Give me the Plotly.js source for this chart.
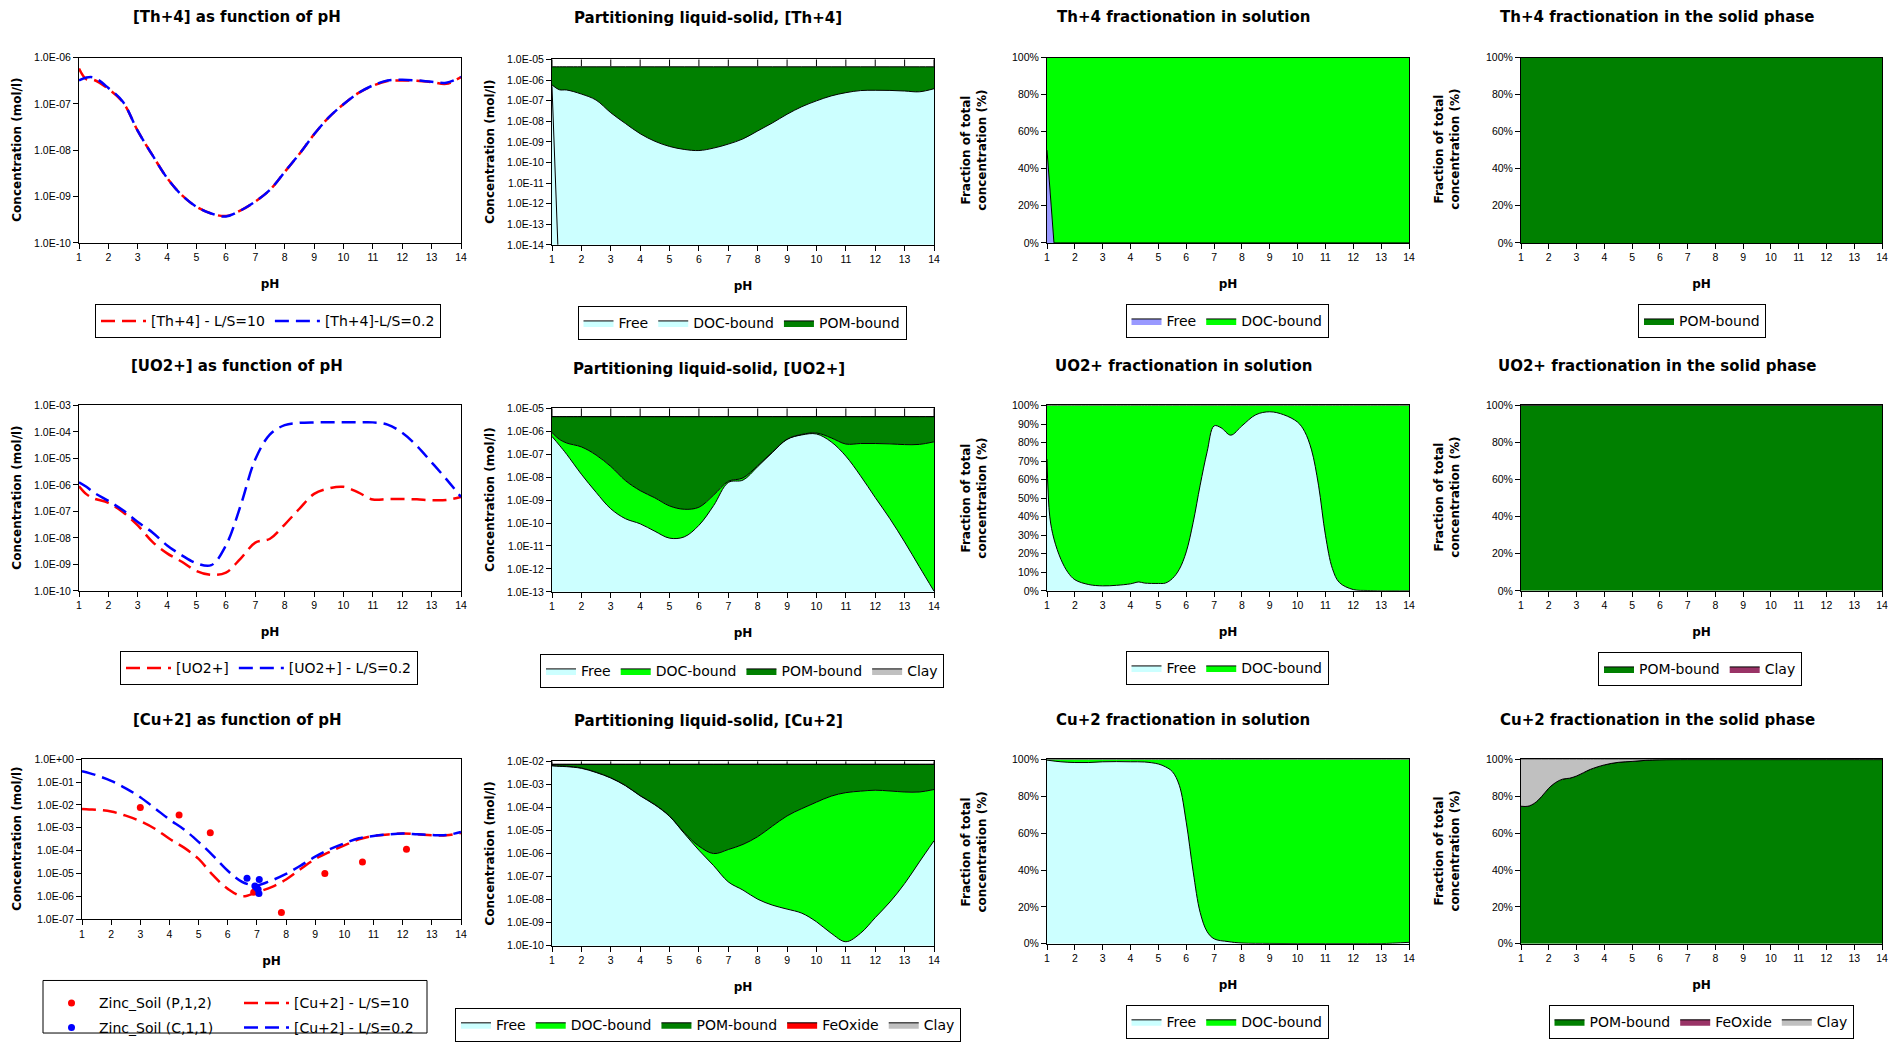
<!DOCTYPE html>
<html><head><meta charset="utf-8">
<script src="https://cdn.plot.ly/plotly-3.0.1.min.js"></script>
<style>html,body{margin:0;padding:0;background:#fff;}#chart{width:1891px;height:1044px;}</style>
</head><body><div id="chart"></div>
<script>
// ---------------- DATA ----------------
const phA = [1, 1.25, 1.5, 2, 2.5, 3, 3.5, 4, 4.5, 5, 5.5, 6, 6.5, 7, 7.5, 8, 8.5, 9, 9.5, 10, 10.5, 11, 11.5, 12, 12.5, 13, 13.5, 14];

// Th+4
const thLS10 = [5.8e-7, 3.4e-7, 3.3e-7, 2.1e-7, 1.07e-7, 2.6e-8, 7.8e-9, 2.5e-9, 1.07e-9, 6.0e-10, 4.3e-10, 3.8e-10, 5.0e-10, 7.8e-10, 1.4e-9, 3.4e-9, 8.3e-9, 2.2e-8, 5.1e-8, 9.8e-8, 1.7e-7, 2.45e-7, 3.1e-7, 3.2e-7, 3.15e-7, 2.95e-7, 2.7e-7, 3.8e-7];
const thLS02 = [3.2e-7, 3.7e-7, 3.7e-7, 2.2e-7, 1.1e-7, 2.6e-8, 7.8e-9, 2.5e-9, 1.07e-9, 6.0e-10, 4.3e-10, 3.7e-10, 5.0e-10, 7.8e-10, 1.4e-9, 3.4e-9, 8.3e-9, 2.2e-8, 5.1e-8, 9.8e-8, 1.7e-7, 2.5e-7, 3.2e-7, 3.3e-7, 3.2e-7, 3.0e-7, 2.85e-7, 3.8e-7];
const thPartFree = [5e-7, 1e-16, 1e-16, 1e-16, 1e-16, 1e-16, 1e-16, 1e-16, 1e-16, 1e-16, 1e-16, 1e-16, 1e-16, 1e-16, 1e-16, 1e-16, 1e-16, 1e-16, 1e-16, 1e-16, 1e-16, 1e-16, 1e-16, 1e-16, 1e-16, 1e-16, 1e-16, 1e-16];
const thPartDissolved = thLS10;
const thPartTotal = [4.4e-6, 4.4e-6, 4.4e-6, 4.4e-6, 4.4e-6, 4.4e-6, 4.4e-6, 4.4e-6, 4.4e-6, 4.4e-6, 4.4e-6, 4.4e-6, 4.4e-6, 4.4e-6, 4.4e-6, 4.4e-6, 4.4e-6, 4.4e-6, 4.4e-6, 4.4e-6, 4.4e-6, 4.4e-6, 4.4e-6, 4.4e-6, 4.4e-6, 4.4e-6, 4.4e-6, 4.4e-6];
const thSolFree = [50, 0, 0, 0, 0, 0, 0, 0, 0, 0, 0, 0, 0, 0, 0, 0, 0, 0, 0, 0, 0, 0, 0, 0, 0, 0, 0, 0];
const thSolDoc = [50, 100, 100, 100, 100, 100, 100, 100, 100, 100, 100, 100, 100, 100, 100, 100, 100, 100, 100, 100, 100, 100, 100, 100, 100, 100, 100, 100];
const thSolidPom = [100, 100, 100, 100, 100, 100, 100, 100, 100, 100, 100, 100, 100, 100, 100, 100, 100, 100, 100, 100, 100, 100, 100, 100, 100, 100, 100, 100];

// UO2+
const uo2LS10 = [8.9e-7, 4.5e-7, 3.1e-7, 2.1e-7, 9.3e-8, 2.95e-8, 7.1e-9, 2.6e-9, 1.26e-9, 5.6e-10, 4.0e-10, 4.9e-10, 1.66e-9, 6.6e-9, 9.3e-9, 3.2e-8, 1.26e-7, 4.6e-7, 7.4e-7, 8.5e-7, 5.2e-7, 2.8e-7, 2.95e-7, 2.95e-7, 2.85e-7, 2.65e-7, 2.7e-7, 3.5e-7];
const uo2LS02 = [1.26e-6, 8.5e-7, 5.2e-7, 2.5e-7, 1.1e-7, 4.0e-8, 1.6e-8, 5.2e-9, 2.2e-9, 1.1e-9, 9.3e-10, 5.2e-9, 1.66e-7, 9.3e-6, 8.1e-5, 1.8e-4, 2.2e-4, 2.3e-4, 2.3e-4, 2.3e-4, 2.3e-4, 2.3e-4, 1.9e-4, 9.3e-5, 2.95e-5, 7.1e-6, 1.66e-6, 3.5e-7];
const uo2PartFree = [6.0e-7, 2.5e-7, 1.0e-7, 1.35e-8, 2.2e-9, 4.2e-10, 1.55e-10, 9.3e-11, 4.4e-11, 2.2e-11, 2.5e-11, 8e-11, 5.8e-10, 5.9e-9, 7.5e-9, 2.9e-8, 1.2e-7, 4.45e-7, 7.0e-7, 7.7e-7, 3.5e-7, 8.3e-8, 1.15e-8, 1.3e-9, 1.55e-10, 1.5e-11, 1.26e-12, 1.07e-13];
const uo2PartDissolved = uo2LS10;
const uo2PartTotal = thPartTotal;
const phB = [1, 1.1, 1.25, 1.5, 1.75, 2, 2.5, 3, 3.5, 4, 4.3, 4.5, 5, 5.25, 5.5, 5.75, 6, 6.25, 6.5, 6.75, 7, 7.25, 7.6, 8, 8.5, 9, 9.5, 10, 10.25, 10.5, 10.75, 11, 11.25, 11.5, 12, 12.5, 13, 14];
const uo2SolFree = [71, 40, 28, 17, 10, 6, 3.4, 2.7, 3, 3.8, 4.8, 4.2, 4, 4.2, 6.6, 11.6, 21, 37, 57, 75, 89, 88, 84, 89, 95, 96.6, 95, 91, 86, 76, 57, 30, 12, 4.5, 0.7, 0.2, 0, 0];
const uo2SolDoc = [29, 60, 72, 83, 90, 94, 96.6, 97.3, 97, 96.2, 95.2, 95.8, 96, 95.8, 93.4, 88.4, 79, 63, 43, 25, 11, 12, 16, 11, 5, 3.4, 5, 9, 14, 24, 43, 70, 88, 95.5, 99.3, 99.8, 100, 100];
const uo2SolidPom = thSolidPom;
const uo2SolidClay = [0, 0, 0, 0, 0, 0, 0, 0, 0, 0, 0, 0, 0, 0, 0, 0, 0, 0, 0, 0, 0, 0, 0, 0, 0, 0, 0, 0];

// Cu+2
const cuLS10 = [6.6e-3, 6.3e-3, 6.2e-3, 5.2e-3, 3.4e-3, 1.95e-3, 9.1e-4, 3.3e-4, 1.35e-4, 4.3e-5, 8.1e-6, 2.1e-6, 1.0e-6, 1.5e-6, 2.5e-6, 5.4e-6, 1.55e-5, 4.3e-5, 8.9e-5, 1.7e-4, 3.1e-4, 4.4e-4, 5.1e-4, 5.6e-4, 5.2e-4, 4.7e-4, 4.7e-4, 6.0e-4];
const cuLS02 = [0.30, 0.25, 0.20, 0.115, 5.4e-2, 2.2e-2, 7.2e-3, 2.3e-3, 8.5e-4, 2.4e-4, 5.9e-5, 1.3e-5, 4.2e-6, 3.0e-6, 4.9e-6, 9.5e-6, 2.2e-5, 5.4e-5, 1.15e-4, 2.1e-4, 3.5e-4, 4.4e-4, 5.1e-4, 5.6e-4, 5.2e-4, 4.8e-4, 4.8e-4, 6.5e-4];
const zincSoilP_pH = [3.0, 4.33, 5.4, 6.89, 7.84, 9.33, 10.62, 12.13];
const zincSoilP_conc = [7.8e-3, 3.6e-3, 6.0e-4, 1.5e-6, 1.95e-7, 1.0e-5, 3.2e-5, 1.15e-4];
const zincSoilC_pH = [6.66, 7.08, 6.93, 6.98, 7.04, 7.07];
const zincSoilC_conc = [6.2e-6, 5.4e-6, 2.8e-6, 2.4e-6, 2.0e-6, 1.3e-6];
const cuPartFree = [6.4e-3, 6.1e-3, 5.9e-3, 5.0e-3, 3.3e-3, 1.9e-3, 8.8e-4, 3.2e-4, 1.3e-4, 4.1e-5, 7.5e-6, 1.4e-6, 3.0e-7, 5.9e-8, 2.6e-8, 1.05e-8, 5.8e-9, 3.9e-9, 2.6e-9, 1.1e-9, 3.5e-10, 1.5e-10, 3.5e-10, 1.66e-9, 7.9e-9, 5.0e-8, 4.3e-7, 3.6e-6];
const cuPartDissolved = cuLS10;
const cuPartTotal = [7.4e-3, 7.4e-3, 7.4e-3, 7.4e-3, 7.4e-3, 7.4e-3, 7.4e-3, 7.4e-3, 7.4e-3, 7.4e-3, 7.4e-3, 7.4e-3, 7.4e-3, 7.4e-3, 7.4e-3, 7.4e-3, 7.4e-3, 7.4e-3, 7.4e-3, 7.4e-3, 7.4e-3, 7.4e-3, 7.4e-3, 7.4e-3, 7.4e-3, 7.4e-3, 7.4e-3, 7.4e-3];
const phC = [1, 1.5, 2, 2.5, 3, 3.5, 4, 4.5, 5, 5.25, 5.5, 5.75, 6, 6.25, 6.5, 6.75, 7, 7.5, 8, 9, 10, 11, 12, 13, 14];
const cuSolFree = [99.6, 98.7, 98.3, 98.3, 98.7, 98.8, 98.7, 98.6, 97.5, 96, 93.4, 86, 66, 39, 17, 6.6, 2.7, 1.2, 0.4, 0.2, 0.1, 0.1, 0.1, 0.1, 0.8];
const cuSolDoc = [0.4, 1.3, 1.7, 1.7, 1.3, 1.2, 1.3, 1.4, 2.5, 4, 6.6, 14, 34, 61, 83, 93.4, 97.3, 98.8, 99.6, 99.8, 99.9, 99.9, 99.9, 99.9, 99.2];
const phD = [1, 1.25, 1.5, 1.75, 2, 2.25, 2.5, 2.75, 3, 3.25, 3.5, 4, 4.5, 5, 5.5, 6, 7, 8, 9, 10, 11, 12, 13, 14];
const cuSolidPom = [74.6, 74.6, 76.4, 80, 84.4, 87.5, 89.3, 89.8, 91, 92.8, 94.6, 97, 98.4, 98.9, 99.5, 99.8, 99.9, 99.9, 99.9, 99.9, 99.9, 99.9, 99.9, 99.9];
const cuSolidFe = [0, 0, 0, 0, 0, 0, 0, 0, 0, 0, 0, 0, 0, 0, 0, 0, 0, 0, 0, 0, 0, 0, 0, 0];
const cuSolidClay = [25.4, 25.4, 23.6, 20, 15.6, 12.5, 10.7, 10.2, 9, 7.2, 5.4, 3, 1.6, 1.1, 0.5, 0.2, 0.1, 0.1, 0.1, 0.1, 0.1, 0.1, 0.1, 0.1];

// tick labels
const thConcTickVals = [1e-10, 1e-9, 1e-8, 1e-7, 1e-6];
const thConcTickText = ['1.0E-10', '1.0E-09', '1.0E-08', '1.0E-07', '1.0E-06'];
const thPartTickVals = [1e-14, 1e-13, 1e-12, 1e-11, 1e-10, 1e-9, 1e-8, 1e-7, 1e-6, 1e-5];
const thPartTickText = ['1.0E-14', '1.0E-13', '1.0E-12', '1.0E-11', '1.0E-10', '1.0E-09', '1.0E-08', '1.0E-07', '1.0E-06', '1.0E-05'];
const uo2ConcTickVals = [1e-10, 1e-9, 1e-8, 1e-7, 1e-6, 1e-5, 1e-4, 1e-3];
const uo2ConcTickText = ['1.0E-10', '1.0E-09', '1.0E-08', '1.0E-07', '1.0E-06', '1.0E-05', '1.0E-04', '1.0E-03'];
const uo2PartTickVals = [1e-13, 1e-12, 1e-11, 1e-10, 1e-9, 1e-8, 1e-7, 1e-6, 1e-5];
const uo2PartTickText = ['1.0E-13', '1.0E-12', '1.0E-11', '1.0E-10', '1.0E-09', '1.0E-08', '1.0E-07', '1.0E-06', '1.0E-05'];
const cuConcTickVals = [1e-7, 1e-6, 1e-5, 1e-4, 1e-3, 1e-2, 1e-1, 1];
const cuConcTickText = ['1.0E-07', '1.0E-06', '1.0E-05', '1.0E-04', '1.0E-03', '1.0E-02', '1.0E-01', '1.0E+00'];
const cuPartTickVals = [1e-10, 1e-9, 1e-8, 1e-7, 1e-6, 1e-5, 1e-4, 1e-3, 1e-2];
const cuPartTickText = ['1.0E-10', '1.0E-09', '1.0E-08', '1.0E-07', '1.0E-06', '1.0E-05', '1.0E-04', '1.0E-03', '1.0E-02'];
const pct20TickVals = [0, 20, 40, 60, 80, 100];
const pct20TickText = ['0%', '20%', '40%', '60%', '80%', '100%'];
const pct10TickVals = [0, 10, 20, 30, 40, 50, 60, 70, 80, 90, 100];
const pct10TickText = ['0%', '10%', '20%', '30%', '40%', '50%', '60%', '70%', '80%', '90%', '100%'];
const pHTickVals = [1, 2, 3, 4, 5, 6, 7, 8, 9, 10, 11, 12, 13, 14];

// ---------------- STYLE / LAYOUT ----------------
const W = 1891, H = 1044;
const FM = 'DejaVu Sans, Verdana, sans-serif';
const FT = 'Liberation Sans, Arial, sans-serif';
const C = {free: '#CCFFFF', doc: '#00FF00', pom: '#008000', lav: '#9999FF', clay: '#C0C0C0', plum: '#993366', red: '#FF0000', blue: '#0000FF'};
const dashStyle = '14px,7px';
const titleFont = {family: FM, size: 12, color: '#000', weight: 'bold'};

function xd(a, b) { return [a / W, b / W]; }
function yd(top, bot) { return [1 - bot / H, 1 - top / H]; }

function xAx(dom, anchor) {
  return {domain: dom, anchor: anchor, range: [1, 14], tickvals: pHTickVals, ticks: 'outside', ticklen: 5,
    tickcolor: '#000', showline: true, linecolor: '#000', linewidth: 1, mirror: true, showgrid: false,
    zeroline: false, tickfont: {family: FT, size: 10.5, color: '#000'},
    title: {text: 'pH', font: titleFont, standoff: 17}};
}
function yLog(dom, anchor, vals, text) {
  return {domain: dom, anchor: anchor, type: 'log', range: [Math.log10(vals[0]), Math.log10(vals[vals.length - 1])],
    tickvals: vals, ticktext: text, ticks: 'outside', ticklen: 5, tickcolor: '#000', showline: true,
    linecolor: '#000', linewidth: 1, mirror: true, showgrid: false, zeroline: false,
    tickfont: {family: FT, size: 10.5, color: '#000'}};
}
function yPct(dom, anchor, vals, text) {
  return {domain: dom, anchor: anchor, range: [0, 100], tickvals: vals, ticktext: text, ticks: 'outside', ticklen: 5,
    tickcolor: '#000', showline: true, linecolor: '#000', linewidth: 1, mirror: true, showgrid: false,
    zeroline: false, tickfont: {family: FT, size: 10.5, color: '#000'}};
}
function leg(cx, top, extra) {
  return Object.assign({x: cx / W, y: 1 - top / H, xanchor: 'center', yanchor: 'top', orientation: 'h',
    bgcolor: '#fff', bordercolor: '#000', borderwidth: 1, traceorder: 'normal',
    font: {family: FM, size: 14, color: '#000'}}, extra || {});
}
// inner tick marks along the top band of the partitioning panels
function topTicks(xa, ya, frac) {
  return pHTickVals.map(v => ({type: 'line', xref: xa, yref: ya + ' domain', x0: v, x1: v, y0: 1, y1: 1 - frac,
    line: {color: '#000', width: 1}, layer: 'above'}));
}

// ---------------- TRACES ----------------
const ln = (color) => ({color: color, width: 2.5, dash: dashStyle, shape: 'spline'});
const edge = {color: '#000', width: 1, shape: 'spline'};
const traces = [];

// Panel 1
traces.push({x: phA, y: thLS10, name: '[Th+4] - L/S=10', mode: 'lines', line: ln(C.red), xaxis: 'x', yaxis: 'y', legend: 'legend'});
traces.push({x: phA, y: thLS02, name: '[Th+4]-L/S=0.2', mode: 'lines', line: ln(C.blue), xaxis: 'x', yaxis: 'y', legend: 'legend'});
// Panel 2
traces.push({x: phA, y: thPartFree, name: 'Free', mode: 'lines', fill: 'tozeroy', fillcolor: C.free, line: {color: '#000', width: 1}, xaxis: 'x2', yaxis: 'y2', legend: 'legend2'});
traces.push({x: phA, y: thPartDissolved, name: 'DOC-bound', mode: 'lines', fill: 'tonexty', fillcolor: C.free, line: edge, xaxis: 'x2', yaxis: 'y2', legend: 'legend2'});
traces.push({x: phA, y: thPartTotal, name: 'POM-bound', mode: 'lines', fill: 'tonexty', fillcolor: C.pom, line: edge, xaxis: 'x2', yaxis: 'y2', legend: 'legend2'});
// Panel 3
traces.push({x: phA, y: thSolFree, name: 'Free', mode: 'lines', stackgroup: 's3', groupnorm: 'percent', fillcolor: C.lav, line: {color: '#000', width: 1}, xaxis: 'x3', yaxis: 'y3', legend: 'legend3'});
traces.push({x: phA, y: thSolDoc, name: 'DOC-bound', mode: 'lines', stackgroup: 's3', fillcolor: C.doc, line: {color: '#000', width: 1}, xaxis: 'x3', yaxis: 'y3', legend: 'legend3'});
// Panel 4
traces.push({x: phA, y: thSolidPom, name: 'POM-bound', mode: 'lines', stackgroup: 's4', groupnorm: 'percent', fillcolor: C.pom, line: {color: '#000', width: 1}, xaxis: 'x4', yaxis: 'y4', legend: 'legend4'});
// Panel 5
traces.push({x: phA, y: uo2LS10, name: '[UO2+]', mode: 'lines', line: ln(C.red), xaxis: 'x5', yaxis: 'y5', legend: 'legend5'});
traces.push({x: phA, y: uo2LS02, name: '[UO2+] - L/S=0.2', mode: 'lines', line: ln(C.blue), xaxis: 'x5', yaxis: 'y5', legend: 'legend5'});
// Panel 6
traces.push({x: phA, y: uo2PartFree, name: 'Free', mode: 'lines', fill: 'tozeroy', fillcolor: C.free, line: edge, xaxis: 'x6', yaxis: 'y6', legend: 'legend6'});
traces.push({x: phA, y: uo2PartDissolved, name: 'DOC-bound', mode: 'lines', fill: 'tonexty', fillcolor: C.doc, line: edge, xaxis: 'x6', yaxis: 'y6', legend: 'legend6'});
traces.push({x: phA, y: uo2PartTotal, name: 'POM-bound', mode: 'lines', fill: 'tonexty', fillcolor: C.pom, line: edge, xaxis: 'x6', yaxis: 'y6', legend: 'legend6'});
traces.push({x: phA, y: uo2PartTotal, name: 'Clay', mode: 'lines', fill: 'tonexty', fillcolor: C.clay, line: edge, xaxis: 'x6', yaxis: 'y6', legend: 'legend6'});
// Panel 7
traces.push({x: phB, y: uo2SolFree, name: 'Free', mode: 'lines', stackgroup: 's7', groupnorm: 'percent', fillcolor: C.free, line: edge, xaxis: 'x7', yaxis: 'y7', legend: 'legend7'});
traces.push({x: phB, y: uo2SolDoc, name: 'DOC-bound', mode: 'lines', stackgroup: 's7', fillcolor: C.doc, line: edge, xaxis: 'x7', yaxis: 'y7', legend: 'legend7'});
// Panel 8
traces.push({x: phA, y: uo2SolidPom, name: 'POM-bound', mode: 'lines', stackgroup: 's8', groupnorm: 'percent', fillcolor: C.pom, line: {color: '#000', width: 1}, xaxis: 'x8', yaxis: 'y8', legend: 'legend8'});
traces.push({x: phA, y: uo2SolidClay, name: 'Clay', mode: 'lines', stackgroup: 's8', fillcolor: C.plum, line: {color: '#000', width: 1}, xaxis: 'x8', yaxis: 'y8', legend: 'legend8'});
// Panel 9
traces.push({x: phA, y: cuLS10, name: '[Cu+2] - L/S=10', mode: 'lines', line: ln(C.red), xaxis: 'x9', yaxis: 'y9', legend: 'legend9', legendrank: 2});
traces.push({x: phA, y: cuLS02, name: '[Cu+2] - L/S=0.2', mode: 'lines', line: ln(C.blue), xaxis: 'x9', yaxis: 'y9', legend: 'legend13', legendrank: 2});
traces.push({x: zincSoilP_pH, y: zincSoilP_conc, name: 'Zinc_Soil (P,1,2)', mode: 'markers', marker: {color: C.red, size: 7}, xaxis: 'x9', yaxis: 'y9', legend: 'legend9', legendrank: 1});
traces.push({x: zincSoilC_pH, y: zincSoilC_conc, name: 'Zinc_Soil (C,1,1)', mode: 'markers', marker: {color: C.blue, size: 7}, xaxis: 'x9', yaxis: 'y9', legend: 'legend13', legendrank: 1});
// Panel 10
traces.push({x: phA, y: cuPartFree, name: 'Free', mode: 'lines', fill: 'tozeroy', fillcolor: C.free, line: edge, xaxis: 'x10', yaxis: 'y10', legend: 'legend10'});
traces.push({x: phA, y: cuPartDissolved, name: 'DOC-bound', mode: 'lines', fill: 'tonexty', fillcolor: C.doc, line: edge, xaxis: 'x10', yaxis: 'y10', legend: 'legend10'});
traces.push({x: phA, y: cuPartTotal, name: 'POM-bound', mode: 'lines', fill: 'tonexty', fillcolor: C.pom, line: edge, xaxis: 'x10', yaxis: 'y10', legend: 'legend10'});
traces.push({x: phA, y: cuPartTotal, name: 'FeOxide', mode: 'lines', fill: 'tonexty', fillcolor: C.red, line: edge, xaxis: 'x10', yaxis: 'y10', legend: 'legend10'});
traces.push({x: phA, y: cuPartTotal, name: 'Clay', mode: 'lines', fill: 'tonexty', fillcolor: C.clay, line: edge, xaxis: 'x10', yaxis: 'y10', legend: 'legend10'});
// Panel 11
traces.push({x: phC, y: cuSolFree, name: 'Free', mode: 'lines', stackgroup: 's11', groupnorm: 'percent', fillcolor: C.free, line: edge, xaxis: 'x11', yaxis: 'y11', legend: 'legend11'});
traces.push({x: phC, y: cuSolDoc, name: 'DOC-bound', mode: 'lines', stackgroup: 's11', fillcolor: C.doc, line: edge, xaxis: 'x11', yaxis: 'y11', legend: 'legend11'});
// Panel 12
traces.push({x: phD, y: cuSolidPom, name: 'POM-bound', mode: 'lines', stackgroup: 's12', groupnorm: 'percent', fillcolor: C.pom, line: edge, xaxis: 'x12', yaxis: 'y12', legend: 'legend12'});
traces.push({x: phD, y: cuSolidFe, name: 'FeOxide', mode: 'lines', stackgroup: 's12', fillcolor: C.plum, line: edge, xaxis: 'x12', yaxis: 'y12', legend: 'legend12'});
traces.push({x: phD, y: cuSolidClay, name: 'Clay', mode: 'lines', stackgroup: 's12', fillcolor: C.clay, line: edge, xaxis: 'x12', yaxis: 'y12', legend: 'legend12'});

traces.forEach(t => { t.hoverinfo = 'skip'; });

// ---------------- LAYOUT ----------------
const titles = [
  ['[Th+4] as function of pH', 237, 17], ['Partitioning liquid-solid, [Th+4]', 708, 18],
  ['Th+4 fractionation in solution', 1183, 17], ['Th+4 fractionation in the solid phase', 1657, 17],
  ['[UO2+] as function of pH', 237, 369], ['Partitioning liquid-solid, [UO2+]', 709, 372],
  ['UO2+ fractionation in solution', 1183, 369], ['UO2+ fractionation in the solid phase', 1657, 369],
  ['[Cu+2] as function of pH', 237, 726], ['Partitioning liquid-solid, [Cu+2]', 708, 727],
  ['Cu+2 fractionation in solution', 1183, 726], ['Cu+2 fractionation in the solid phase', 1657, 726]
];
const concTitle = 'Concentration (mol/l)';
const fracTitle = 'Fraction of total<br>concentration (%)';
// y-axis titles: [text, centre x px, centre y px]
const yTitles = [
  [concTitle, 17, 151], [concTitle, 490, 153], [fracTitle, 974, 151], [fracTitle, 1447, 151],
  [concTitle, 17, 502], [concTitle, 490, 504], [fracTitle, 974, 502], [fracTitle, 1447, 502],
  [concTitle, 17, 846], [concTitle, 490, 861], [fracTitle, 974, 859], [fracTitle, 1447, 859]
];

const lineLeg = {itemwidth: 45};
const annotations = titles.map(t => ({text: t[0], xref: 'paper', yref: 'paper', x: t[1] / W, y: 1 - t[2] / H,
    xanchor: 'center', yanchor: 'middle', showarrow: false, font: {family: FM, size: 15, color: '#000', weight: 'bold'}}))
  .concat(yTitles.map(t => ({text: t[0], xref: 'paper', yref: 'paper', x: t[1] / W, y: 1 - t[2] / H, textangle: -90,
    xanchor: 'center', yanchor: 'middle', showarrow: false, font: titleFont})));

const layout = {
  width: W, height: H, margin: {l: 0, r: 0, t: 0, b: 0}, paper_bgcolor: '#fff', plot_bgcolor: '#fff',
  font: {family: FM, color: '#000'}, hovermode: false,
  xaxis: xAx(xd(79, 461), 'y'), yaxis: yLog(yd(58, 245), 'x', thConcTickVals, thConcTickText),
  xaxis2: xAx(xd(552, 934), 'y2'), yaxis2: yLog(yd(60, 247), 'x2', thPartTickVals, thPartTickText),
  xaxis3: xAx(xd(1047, 1409), 'y3'), yaxis3: yPct(yd(58, 245), 'x3', pct20TickVals, pct20TickText),
  xaxis4: xAx(xd(1521, 1882), 'y4'), yaxis4: yPct(yd(58, 245), 'x4', pct20TickVals, pct20TickText),
  xaxis5: xAx(xd(79, 461), 'y5'), yaxis5: yLog(yd(409, 596), 'x5', uo2ConcTickVals, uo2ConcTickText),
  xaxis6: xAx(xd(552, 934), 'y6'), yaxis6: yLog(yd(412, 597), 'x6', uo2PartTickVals, uo2PartTickText),
  xaxis7: xAx(xd(1047, 1409), 'y7'), yaxis7: yPct(yd(409, 596), 'x7', pct10TickVals, pct10TickText),
  xaxis8: xAx(xd(1521, 1882), 'y8'), yaxis8: yPct(yd(409, 596), 'x8', pct20TickVals, pct20TickText),
  xaxis9: xAx(xd(82, 461), 'y9'), yaxis9: yLog(yd(766, 927), 'x9', cuConcTickVals, cuConcTickText),
  xaxis10: xAx(xd(552, 934), 'y10'), yaxis10: yLog(yd(768, 954), 'x10', cuPartTickVals, cuPartTickText),
  xaxis11: xAx(xd(1047, 1409), 'y11'), yaxis11: yPct(yd(766, 952), 'x11', pct20TickVals, pct20TickText),
  xaxis12: xAx(xd(1521, 1882), 'y12'), yaxis12: yPct(yd(766, 952), 'x12', pct20TickVals, pct20TickText),
  legend: leg(268, 307, lineLeg), legend2: leg(742, 309), legend3: leg(1227, 307), legend4: leg(1702, 307),
  legend5: leg(269, 657, lineLeg), legend6: leg(742, 660), legend7: leg(1227, 657), legend8: leg(1700, 658),
  legend9: leg(44, 996, {xanchor: 'left', borderwidth: 0, bgcolor: 'rgba(0,0,0,0)', entrywidth: 135, itemwidth: 45}),
  legend13: leg(44, 1021, {xanchor: 'left', borderwidth: 0, bgcolor: 'rgba(0,0,0,0)', entrywidth: 135, itemwidth: 45}),
  legend10: leg(708, 1017), legend11: leg(1227, 1014), legend12: leg(1701, 1014),
  shapes: [{type: 'rect', xref: 'paper', yref: 'paper', x0: 43 / W, x1: 427 / W, y0: 1 - 1042 / H, y1: 1 - 989 / H, line: {color: '#000', width: 1}}]
    .concat(topTicks('x2', 'y2', 7 / 187), topTicks('x6', 'y6', 8 / 185), topTicks('x10', 'y10', 3 / 186)),
  annotations: annotations
};

Plotly.newPlot('chart', traces, layout, {staticPlot: true, displayModeBar: false});
</script></body></html>
